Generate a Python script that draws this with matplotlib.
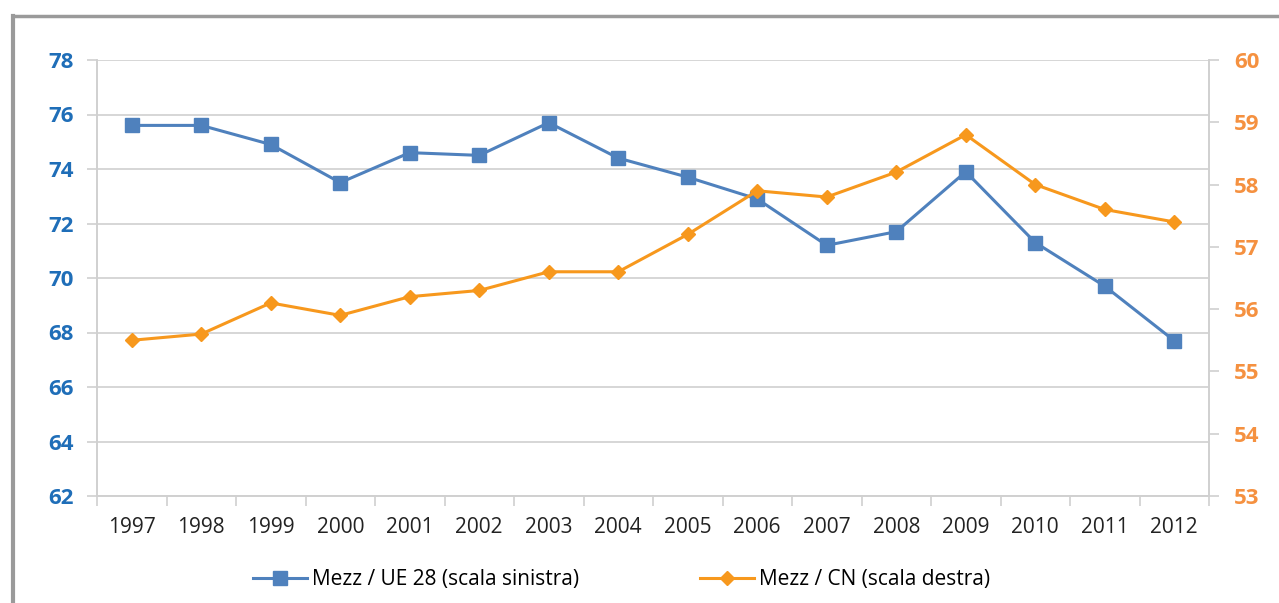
import matplotlib.pyplot as plt
from matplotlib.lines import Line2D
import numpy as np

# dati
anni = ["1997", "1998", "1999", "2000", "2001", "2002", "2003", "2004",
        "2005", "2006", "2007", "2008", "2009", "2010", "2011", "2012"]
mezz_ue28 = [75.6, 75.6, 74.9, 73.5, 74.6, 74.5, 75.7, 74.4,
             73.7, 72.9, 71.2, 71.7, 73.9, 71.3, 69.7, 67.7]
mezz_cn = [55.5, 55.6, 56.1, 55.9, 56.2, 56.3, 56.6, 56.6,
           57.2, 57.9, 57.8, 58.2, 58.8, 58.0, 57.6, 57.4]
ticks_sx = [62, 64, 66, 68, 70, 72, 74, 76, 78]
ticks_dx = [53, 54, 55, 56, 57, 58, 59, 60]

BLU = "#4F81BD"
BLU_TXT = "#1F6EB8"
ARANCIO = "#F7981D"
ARANCIO_TXT = "#F59140"
GRIGIO = "#D0D0D0"

plt.rcParams["font.family"] = ["Open Sans", "DejaVu Sans"]

fig = plt.figure(figsize=(12.79, 6.03), dpi=100)
ax = fig.add_axes([97 / 1279, 1 - 496 / 603, 1112 / 1279, 436 / 603])
ax2 = ax.twinx()

x = np.arange(len(anni))
l1, = ax.plot(x, mezz_ue28, color=BLU, lw=2.2, marker="s", ms=10,
              label="Mezz / UE 28 (scala sinistra)")
l2, = ax2.plot(x, mezz_cn, color=ARANCIO, lw=2.2, marker="D", ms=7,
               label="Mezz / CN (scala destra)")

ax.set_xlim(-0.5, len(anni) - 0.5)
ax.set_ylim(62, 78)
ax2.set_ylim(53, 60)

ax.set_yticks(ticks_sx)
ax.set_yticklabels([str(t) for t in ticks_sx], color=BLU_TXT,
                   fontweight="bold", fontsize=16)
ax2.set_yticks(ticks_dx)
ax2.set_yticklabels([str(t) for t in ticks_dx], color=ARANCIO_TXT,
                    fontweight="bold", fontsize=16)

ax.set_xticks(x)
ax.set_xticklabels(anni, fontsize=15, color="#222222")
ax.set_xticks(np.arange(-0.5, len(anni)), minor=True)
ax.tick_params(axis="x", which="major", length=0, pad=15)
ax.tick_params(axis="x", which="minor", length=7, color=GRIGIO, width=1.2)
ax.tick_params(axis="y", length=7, color=GRIGIO, width=1.2, pad=10)
ax2.tick_params(axis="y", length=7, color=GRIGIO, width=1.2, pad=11)

ax.grid(axis="y", color=GRIGIO, lw=1.2)
ax.set_axisbelow(True)
for a in (ax, ax2):
    a.spines["top"].set_visible(False)
    for s in ("left", "right", "bottom"):
        a.spines[s].set_color(GRIGIO)
        a.spines[s].set_linewidth(1.2)

fig.legend(handles=[l1, l2], loc="center", bbox_to_anchor=(0.486, 1 - 580 / 603),
           ncol=2, frameon=False, fontsize=15, columnspacing=5.8,
           handlelength=2.6, handletextpad=0.25)

# cornice grigia
fig.add_artist(Line2D([13 / 1279, 1], [1 - 16 / 603, 1 - 16 / 603],
                      color="#9A9A9A", lw=2.5))
fig.add_artist(Line2D([13 / 1279, 13 / 1279], [0, 1 - 16 / 603],
                      color="#9A9A9A", lw=3))

fig.savefig("out.png", dpi=100)
